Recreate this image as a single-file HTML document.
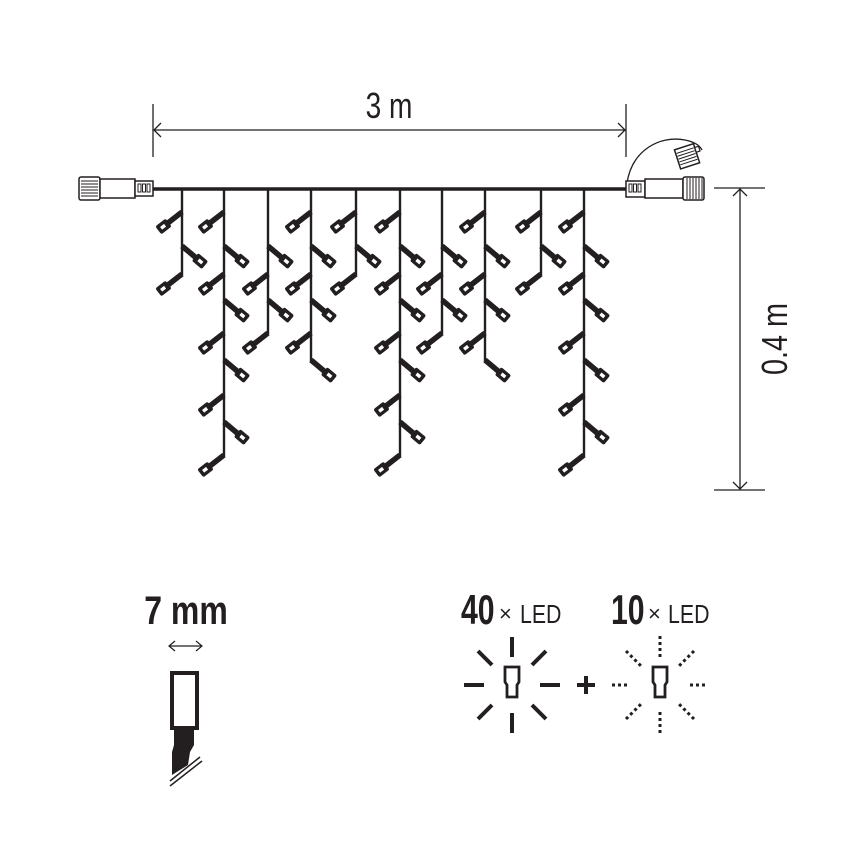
<!DOCTYPE html>
<html><head><meta charset="utf-8"><style>
html,body{margin:0;padding:0;background:#fff;}
svg{display:block}
text{font-family:"Liberation Sans",sans-serif;fill:#231f20}
</style></head><body>
<svg width="850" height="850" viewBox="0 0 850 850" xmlns="http://www.w3.org/2000/svg">
<defs>
<g id="L" transform="rotate(142)">
 <line x1="0" y1="0" x2="19" y2="0" stroke="#231f20" stroke-width="5.5"/>
 <rect x="17" y="-5" width="13" height="10" rx="2" fill="#231f20"/>
 <rect x="21.5" y="-1.7" width="5" height="3.4" fill="#fff"/>
</g>
<g id="R" transform="rotate(40)">
 <line x1="0" y1="0" x2="19" y2="0" stroke="#231f20" stroke-width="5.5"/>
 <rect x="17" y="-5" width="13" height="10" rx="2" fill="#231f20"/>
 <rect x="21.5" y="-1.7" width="5" height="3.4" fill="#fff"/>
</g>
</defs>

<g stroke="#231f20" stroke-width="1.3" fill="none">
 <line x1="153" y1="104" x2="153" y2="157"/>
 <line x1="626" y1="104" x2="626" y2="157"/>
 <line x1="153" y1="130" x2="626" y2="130"/>
 <polyline points="161,123 154,130 161,137"/>
 <polyline points="618,123 625,130 618,137"/>
 <line x1="714" y1="188" x2="765" y2="188"/>
 <line x1="714" y1="490" x2="765" y2="490"/>
 <line x1="740" y1="188" x2="740" y2="490"/>
 <polyline points="733,196 740,189 747,196"/>
 <polyline points="733,482 740,489 747,482"/>
</g>
<text x="389" y="118" font-size="36" text-anchor="middle" transform="translate(389 0) scale(0.78 1) translate(-389 0)">3 m</text>
<text x="0" y="0" font-size="36" text-anchor="middle" transform="translate(787 339) rotate(-90) scale(0.8 1)">0.4 m</text>

<line x1="153" y1="189" x2="626" y2="189" stroke="#231f20" stroke-width="3.5"/>

<g stroke="#231f20" stroke-width="2.4">
 <line x1="182" y1="189" x2="182" y2="275"/>
 <line x1="224" y1="189" x2="224" y2="456"/>
 <line x1="268" y1="189" x2="268" y2="334"/>
 <line x1="311" y1="189" x2="311" y2="361"/>
 <line x1="356" y1="189" x2="356" y2="275"/>
 <line x1="400" y1="189" x2="400" y2="456"/>
 <line x1="442" y1="189" x2="442" y2="334"/>
 <line x1="485" y1="189" x2="485" y2="361"/>
 <line x1="541" y1="189" x2="541" y2="275"/>
 <line x1="584" y1="189" x2="584" y2="456"/>
</g>
<use href="#L" x="182" y="212"/><use href="#R" x="182" y="246"/><use href="#L" x="182" y="274"/>
<use href="#L" x="224" y="212"/><use href="#R" x="224" y="246"/><use href="#L" x="224" y="274"/><use href="#R" x="224" y="300"/><use href="#L" x="224" y="333"/><use href="#R" x="224" y="360"/><use href="#L" x="224" y="395"/><use href="#R" x="224" y="422"/><use href="#L" x="224" y="455"/>
<use href="#R" x="268" y="246"/><use href="#L" x="268" y="274"/><use href="#R" x="268" y="300"/><use href="#L" x="268" y="333"/>
<use href="#L" x="311" y="212"/><use href="#R" x="311" y="246"/><use href="#L" x="311" y="274"/><use href="#R" x="311" y="300"/><use href="#L" x="311" y="333"/><use href="#R" x="311" y="360"/>
<use href="#L" x="356" y="212"/><use href="#R" x="356" y="246"/><use href="#L" x="356" y="274"/>
<use href="#L" x="400" y="212"/><use href="#R" x="400" y="246"/><use href="#L" x="400" y="274"/><use href="#R" x="400" y="300"/><use href="#L" x="400" y="333"/><use href="#R" x="400" y="360"/><use href="#L" x="400" y="395"/><use href="#R" x="400" y="422"/><use href="#L" x="400" y="455"/>
<use href="#R" x="442" y="246"/><use href="#L" x="442" y="274"/><use href="#R" x="442" y="300"/><use href="#L" x="442" y="333"/>
<use href="#L" x="485" y="212"/><use href="#R" x="485" y="246"/><use href="#L" x="485" y="274"/><use href="#R" x="485" y="300"/><use href="#L" x="485" y="333"/><use href="#R" x="485" y="360"/>
<use href="#L" x="541" y="212"/><use href="#R" x="541" y="246"/><use href="#L" x="541" y="274"/>
<use href="#L" x="584" y="212"/><use href="#R" x="584" y="246"/><use href="#L" x="584" y="274"/><use href="#R" x="584" y="300"/><use href="#L" x="584" y="333"/><use href="#R" x="584" y="360"/><use href="#L" x="584" y="395"/><use href="#R" x="584" y="422"/><use href="#L" x="584" y="455"/>

<g stroke="#231f20" stroke-width="1.5" fill="#fff">
 <rect x="79" y="177" width="21" height="23" rx="2"/>
 <rect x="100" y="179" width="35" height="19"/>
 <rect x="135" y="181" width="18" height="15"/>
</g>
<g stroke="#231f20" stroke-width="1">
 <line x1="81" y1="181" x2="98" y2="181"/><line x1="81" y1="184" x2="98" y2="184"/><line x1="81" y1="187" x2="98" y2="187"/><line x1="81" y1="190" x2="98" y2="190"/><line x1="81" y1="193" x2="98" y2="193"/><line x1="81" y1="196" x2="98" y2="196"/>
 <rect x="138" y="184" width="3" height="8" fill="none"/><rect x="142.5" y="184" width="3" height="8" fill="none"/><rect x="147" y="184" width="3" height="8" fill="none"/>
</g>

<path d="M627,183 C632,150 660,135 685,140 C695,142 700,146 702,150" stroke="#231f20" stroke-width="1.3" fill="none"/>
<g stroke="#231f20" stroke-width="1.5" fill="#fff">
 <rect x="626" y="181" width="19" height="16"/>
 <rect x="645" y="179" width="38" height="19"/>
 <rect x="683" y="177" width="21" height="23" rx="2"/>
</g>
<g stroke="#231f20" stroke-width="1">
 <line x1="687" y1="178" x2="687" y2="199"/><line x1="690" y1="178" x2="690" y2="199"/><line x1="693" y1="178" x2="693" y2="199"/><line x1="696" y1="178" x2="696" y2="199"/><line x1="699" y1="178" x2="699" y2="199"/><line x1="702" y1="178" x2="702" y2="199"/>
 <rect x="629" y="184" width="3" height="8" fill="none"/><rect x="633.5" y="184" width="3" height="8" fill="none"/><rect x="638" y="184" width="3" height="8" fill="none"/>
</g>
<g transform="translate(688 156) rotate(-18)" stroke="#231f20" fill="#fff">
 <rect x="-11" y="-10" width="20" height="20" stroke-width="1.5"/>
 <rect x="9" y="-6" width="4" height="5" stroke-width="1.2"/>
 <g stroke-width="1"><line x1="-10" y1="-6" x2="8" y2="-6"/><line x1="-10" y1="-3" x2="8" y2="-3"/><line x1="-10" y1="0" x2="8" y2="0"/><line x1="-10" y1="3" x2="8" y2="3"/><line x1="-10" y1="6" x2="8" y2="6"/></g>
</g>

<text x="186" y="624" font-size="40" font-weight="bold" text-anchor="middle" transform="translate(186 0) scale(0.8 1) translate(-186 0)">7 mm</text>
<g stroke="#231f20" stroke-width="1.2" fill="none">
 <line x1="169" y1="646" x2="202" y2="646"/>
 <polyline points="175,641 169,646 175,651"/>
 <polyline points="196,641 202,646 196,651"/>
</g>
<rect x="172" y="673" width="25" height="55" fill="#fff" stroke="#231f20" stroke-width="4"/>
<path d="M174,728 L194,728 L194,745 L190,752 L188,765 L172,775 L172,752 L174,745 Z" fill="#231f20"/>
<g stroke="#231f20" stroke-width="1.5">
 <line x1="170" y1="781" x2="200" y2="757"/>
 <line x1="170" y1="786" x2="202" y2="761"/>
</g>

<text x="461" y="624" font-size="42" font-weight="bold" transform="translate(461 0) scale(0.72 1) translate(-461 0)">40</text>
<text x="499" y="621" font-size="22">×</text>
<text x="520" y="623" font-size="26" transform="translate(520 0) scale(0.82 1) translate(-520 0)">LED</text>
<text x="611" y="624" font-size="42" font-weight="bold" transform="translate(611 0) scale(0.72 1) translate(-611 0)">10</text>
<text x="648" y="621" font-size="22">×</text>
<text x="668" y="623" font-size="26" transform="translate(668 0) scale(0.82 1) translate(-668 0)">LED</text>

<g stroke="#231f20" stroke-width="4">
 <line x1="512" y1="637" x2="512" y2="657"/>
 <line x1="512" y1="713" x2="512" y2="733"/>
 <line x1="464" y1="685" x2="484" y2="685"/>
 <line x1="540" y1="685" x2="560" y2="685"/>
 <line x1="478" y1="651" x2="492" y2="665"/>
 <line x1="546" y1="651" x2="532" y2="665"/>
 <line x1="478" y1="719" x2="492" y2="705"/>
 <line x1="546" y1="719" x2="532" y2="705"/>
 <line x1="577" y1="685" x2="595" y2="685"/>
 <line x1="586" y1="676" x2="586" y2="694"/>
</g>
<g stroke="#231f20" stroke-width="3" stroke-dasharray="3 3">
 <line x1="660" y1="636" x2="660" y2="660"/>
 <line x1="660" y1="712" x2="660" y2="736"/>
 <line x1="612" y1="685" x2="630" y2="685"/>
 <line x1="690" y1="685" x2="708" y2="685"/>
 <line x1="626" y1="651" x2="641" y2="666"/>
 <line x1="694" y1="651" x2="679" y2="666"/>
 <line x1="626" y1="719" x2="641" y2="704"/>
 <line x1="694" y1="719" x2="679" y2="704"/>
</g>
<g fill="#fff" stroke="#231f20" stroke-width="2.8">
 <path d="M505,667 h14 v15 l-2,3 v12 h-10 v-12 l-2,-3 z"/>
 <path d="M653,667 h14 v15 l-2,3 v12 h-10 v-12 l-2,-3 z"/>
</g>
</svg>
</body></html>
